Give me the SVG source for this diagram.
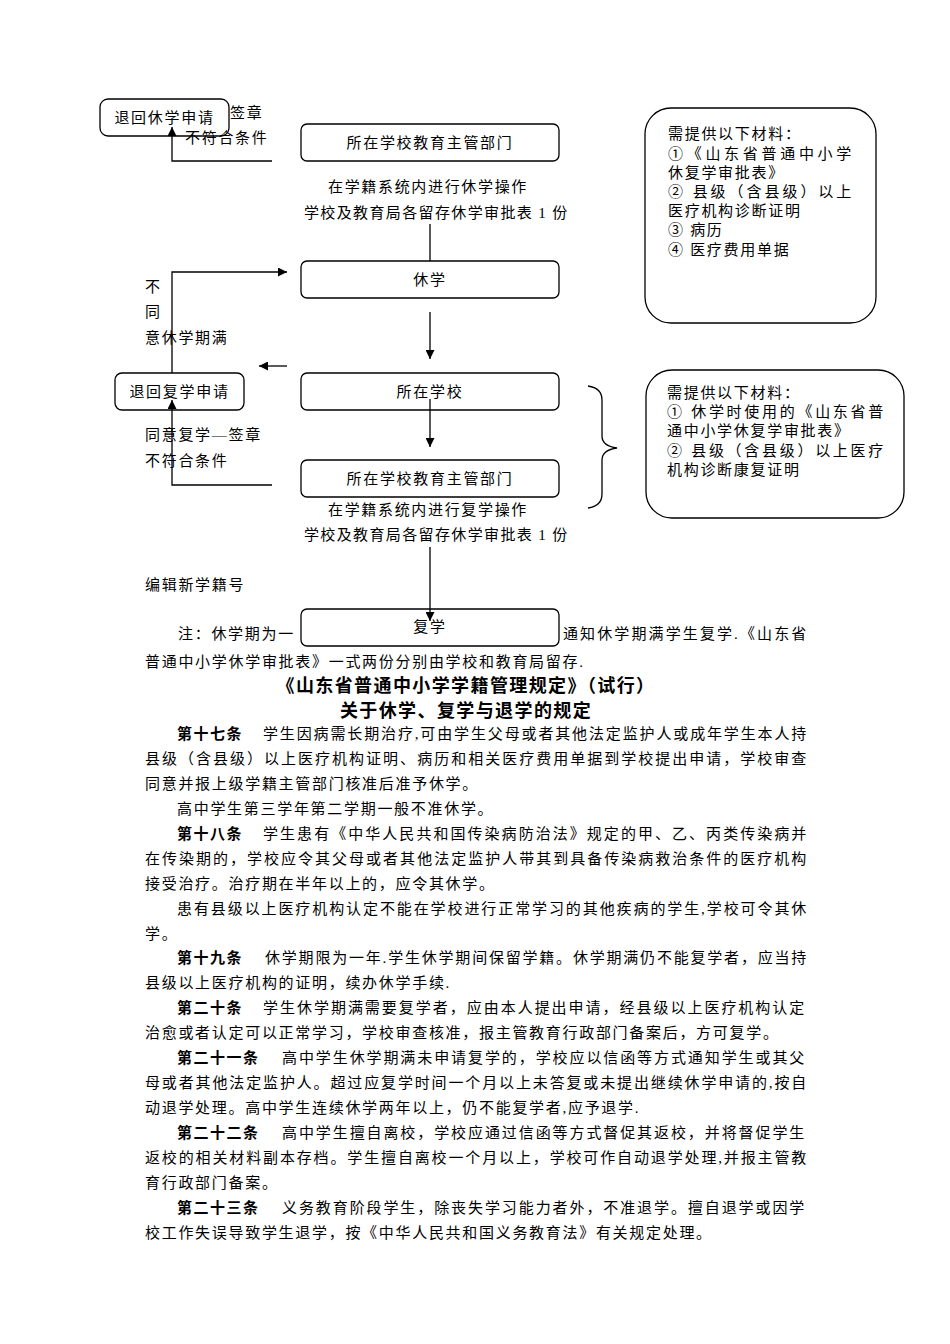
<svg xmlns="http://www.w3.org/2000/svg" width="950" height="1344" viewBox="0 0 950 1344">
<style>
text{font-family:"Liberation Serif","Noto Sans CJK SC",serif;font-size:15px;fill:#000;letter-spacing:1.7px}
.c{text-anchor:middle}
.b{font-family:"Noto Sans CJK SC",sans-serif;font-weight:bold;letter-spacing:1.5px}
.t{font-family:"Noto Sans CJK SC",sans-serif;font-weight:bold;font-size:18px;text-anchor:middle;letter-spacing:1.4px}
.box{fill:#fff;stroke:#000;stroke-width:1.3}
.ln{fill:none;stroke:#000;stroke-width:1.3}
</style>
<defs>
<marker id="ah" viewBox="0 0 10 10" refX="10" refY="5" markerWidth="9" markerHeight="9" markerUnits="userSpaceOnUse" orient="auto">
<path d="M0,0 L10,5 L0,10 z" fill="#000"/>
</marker>
</defs>
<rect width="950" height="1344" fill="#fff"/>

<g id="labels">
<text x="230" y="118">签章</text>
<text x="185" y="143">不符合条件</text>
<text x="328" y="192" textLength="200" lengthAdjust="spacing">在学籍系统内进行休学操作</text>
<text x="304" y="218" textLength="265" lengthAdjust="spacing">学校及教育局各留存休学审批表 1 份</text>
<text x="145" y="292">不</text>
<text x="145" y="317">同</text>
<text x="145" y="343">意休学期满</text>
<text x="145" y="440">同意复学—签章</text>
<text x="145" y="466">不符合条件</text>
<text x="328" y="515" textLength="200" lengthAdjust="spacing">在学籍系统内进行复学操作</text>
<text x="304" y="540" textLength="265" lengthAdjust="spacing">学校及教育局各留存休学审批表 1 份</text>
<text x="145" y="590">编辑新学籍号</text>
<text x="178" y="639">注：休学期为一</text>
<text x="563" y="639" textLength="245" lengthAdjust="spacing">通知休学期满学生复学.《山东省</text>
<text x="145" y="667">普通中小学休学审批表》一式两份分别由学校和教育局留存.</text>
</g>

<g id="n-retxiu">
<rect class="box" x="100" y="99" width="129" height="37" rx="8" fill-opacity="0"/>
<text x="164.5" y="123" class="c">退回休学申请</text>
</g>
<g id="n-dept1">
<rect class="box" x="301" y="124" width="258" height="37" rx="6"/>
<text x="430" y="148" class="c">所在学校教育主管部门</text>
</g>
<g id="n-xiuxue">
<rect class="box" x="301" y="261" width="258" height="37" rx="6"/>
<text x="430" y="285" class="c">休学</text>
</g>
<g id="n-school">
<rect class="box" x="301" y="373" width="258" height="37" rx="6"/>
<text x="430" y="397" class="c">所在学校</text>
</g>
<g id="n-retfu">
<rect class="box" x="115" y="373" width="129" height="37" rx="7"/>
<text x="179.5" y="397" class="c">退回复学申请</text>
</g>
<g id="n-dept2">
<rect class="box" x="301" y="460" width="258" height="37" rx="6"/>
<text x="430" y="484" class="c">所在学校教育主管部门</text>
</g>
<g id="n-fuxue">
<rect class="box" x="301" y="609" width="258" height="37" rx="6"/>
<text x="430" y="632" class="c">复学</text>
</g>

<g id="n-mat1">
<rect class="box" x="645" y="108" width="231" height="215" rx="26"/>
<text x="668" y="139">需提供以下材料：</text>
<text x="668" y="159" textLength="185" lengthAdjust="spacing">①《山东省普通中小学</text>
<text x="668" y="178">休复学审批表》</text>
<text x="668" y="197" textLength="185" lengthAdjust="spacing">② 县级（含县级）以上</text>
<text x="668" y="216">医疗机构诊断证明</text>
<text x="668" y="235">③ 病历</text>
<text x="668" y="255">④ 医疗费用单据</text>
</g>

<g id="n-brace">
<path class="ln" d="M588,386 Q602,388 602,400 L602,436 Q602,446 617,448 Q602,450 602,460 L602,494 Q602,506 588,508"/>
</g>

<g id="n-mat2">
<rect class="box" x="646" y="370" width="258" height="148" rx="26"/>
<text x="667" y="398">需提供以下材料：</text>
<text x="667" y="417" textLength="218" lengthAdjust="spacing">① 休学时使用的《山东省普</text>
<text x="667" y="436">通中小学休复学审批表》</text>
<text x="667" y="456" textLength="218" lengthAdjust="spacing">② 县级（含县级）以上医疗</text>
<text x="667" y="475">机构诊断康复证明</text>
</g>

<g id="connectors">
<polyline class="ln" points="272,161 172,161 172,127" marker-end="url(#ah)"/>
<line class="ln" x1="430" y1="224" x2="430" y2="261"/>
<polyline class="ln" points="172,373 172,272 287,272" marker-end="url(#ah)"/>
<line class="ln" x1="430" y1="312" x2="430" y2="359" marker-end="url(#ah)"/>
<line class="ln" x1="287" y1="366" x2="259" y2="366" marker-end="url(#ah)"/>
<line class="ln" x1="430" y1="399" x2="430" y2="447" marker-end="url(#ah)"/>
<polyline class="ln" points="272,485 172,485 172,400" marker-end="url(#ah)"/>
<line class="ln" x1="430" y1="547" x2="430" y2="621" marker-end="url(#ah)"/>
</g>

<g id="title">
<text x="466" y="692" class="t">《山东省普通中小学学籍管理规定》（试行）</text>
<text x="466" y="717" class="t">关于休学、复学与退学的规定</text>
</g>

<g id="body">
<text x="177" y="739" class="b">第十七条</text>
<text x="263" y="739" textLength="545" lengthAdjust="spacing">学生因病需长期治疗,可由学生父母或者其他法定监护人或成年学生本人持</text>
<text x="145" y="764" textLength="663" lengthAdjust="spacing">县级（含县级）以上医疗机构证明、病历和相关医疗费用单据到学校提出申请，学校审查</text>
<text x="145" y="789">同意并报上级学籍主管部门核准后准予休学。</text>
<text x="177" y="814">高中学生第三学年第二学期一般不准休学。</text>
<text x="177" y="839" class="b">第十八条</text>
<text x="263" y="839" textLength="545" lengthAdjust="spacing">学生患有《中华人民共和国传染病防治法》规定的甲、乙、丙类传染病并</text>
<text x="145" y="864" textLength="663" lengthAdjust="spacing">在传染期的，学校应令其父母或者其他法定监护人带其到具备传染病救治条件的医疗机构</text>
<text x="145" y="889">接受治疗。治疗期在半年以上的，应令其休学。</text>
<text x="177" y="914" textLength="631" lengthAdjust="spacing">患有县级以上医疗机构认定不能在学校进行正常学习的其他疾病的学生,学校可令其休</text>
<text x="145" y="939">学。</text>
<text x="177" y="963" class="b">第十九条</text>
<text x="265" y="963" textLength="543" lengthAdjust="spacing">休学期限为一年.学生休学期间保留学籍。休学期满仍不能复学者，应当持</text>
<text x="145" y="988">县级以上医疗机构的证明，续办休学手续.</text>
<text x="177" y="1013" class="b">第二十条</text>
<text x="263" y="1013" textLength="543" lengthAdjust="spacing">学生休学期满需要复学者，应由本人提出申请，经县级以上医疗机构认定</text>
<text x="145" y="1038">治愈或者认定可以正常学习，学校审查核准，报主管教育行政部门备案后，方可复学。</text>
<text x="177" y="1063" class="b">第二十一条</text>
<text x="282" y="1063" textLength="524" lengthAdjust="spacing">高中学生休学期满未申请复学的，学校应以信函等方式通知学生或其父</text>
<text x="145" y="1088" textLength="663" lengthAdjust="spacing">母或者其他法定监护人。超过应复学时间一个月以上未答复或未提出继续休学申请的,按自</text>
<text x="145" y="1113">动退学处理。高中学生连续休学两年以上，仍不能复学者,应予退学.</text>
<text x="177" y="1138" class="b">第二十二条</text>
<text x="282" y="1138" textLength="524" lengthAdjust="spacing">高中学生擅自离校，学校应通过信函等方式督促其返校，并将督促学生</text>
<text x="145" y="1163" textLength="663" lengthAdjust="spacing">返校的相关材料副本存档。学生擅自离校一个月以上，学校可作自动退学处理,并报主管教</text>
<text x="145" y="1188">育行政部门备案。</text>
<text x="177" y="1213" class="b">第二十三条</text>
<text x="282" y="1213" textLength="524" lengthAdjust="spacing">义务教育阶段学生，除丧失学习能力者外，不准退学。擅自退学或因学</text>
<text x="145" y="1238">校工作失误导致学生退学，按《中华人民共和国义务教育法》有关规定处理。</text>
</g>
</svg>
